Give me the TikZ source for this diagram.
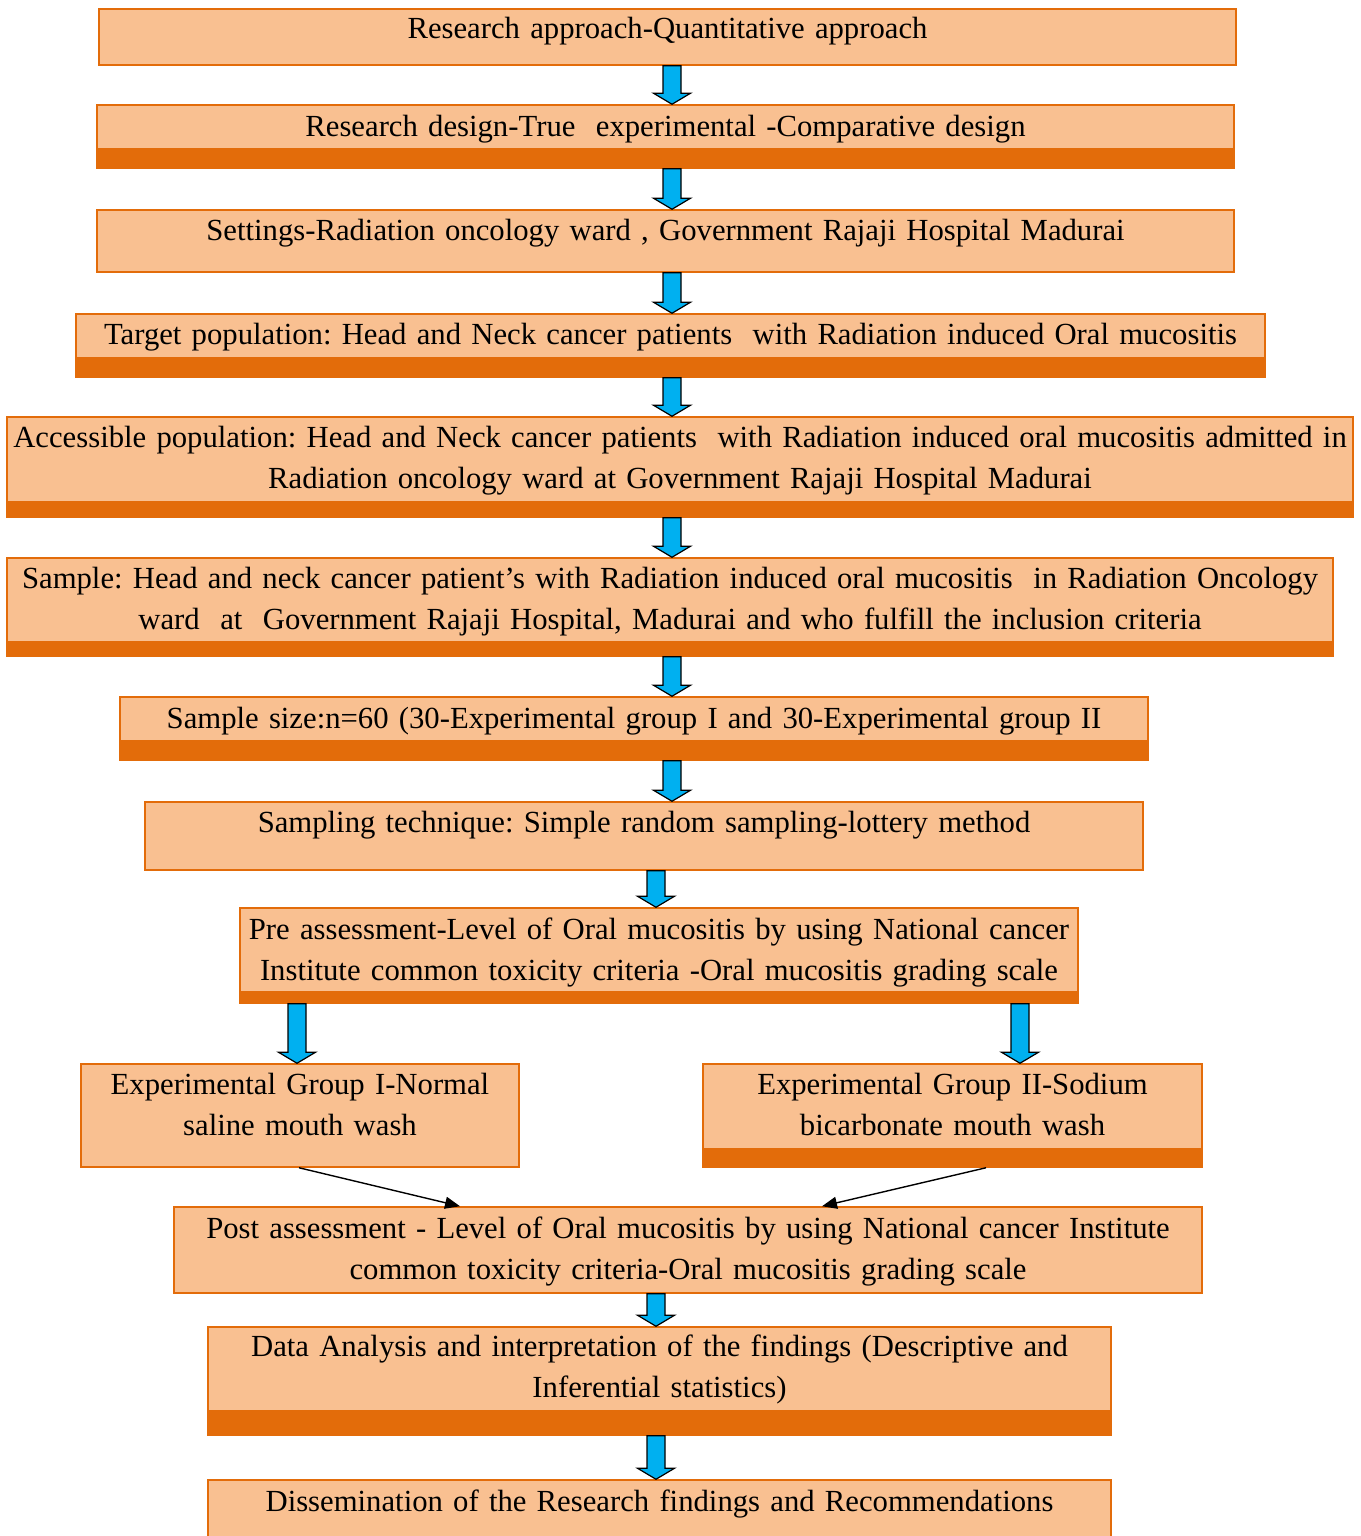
\documentclass[tikz,border=0pt]{standalone}
\usepackage{fontspec}
\setmainfont{Liberation Serif}
\usetikzlibrary{calc,fit,arrows.meta}
\frenchspacing
\definecolor{boxfill}{HTML}{F9C091}
\definecolor{boxline}{HTML}{E36C0A}
\definecolor{arrblue}{HTML}{00B0F0}
\tikzset{
  box/.style={draw=boxline, fill=boxfill, line width=1.5pt, inner sep=0pt, rectangle},
  txt/.style={anchor=base, inner sep=0pt, align=center, text width=1400pt,
    font=\fontsize{30.7}{41}\selectfont\frenchspacing},
  blockarr/.style={fill=arrblue, draw=black, line width=1.2pt, line join=miter},
  thinarr/.style={draw=black, line width=1.4pt, -{Triangle[length=15pt,width=12pt]}}
}
\newcommand\barrow[3]{%
  \draw[blockarr] let \p1=(#1.south -| #3,0), \p2=(#2.north -| #3,0) in
    (\x1-9pt,\y1) -- (\x1+9pt,\y1) -- (\x1+9pt,\y2+11pt) -- (\x1+18.5pt,\y2+11pt)
    -- (\x1,\y2) -- (\x1-18.5pt,\y2+11pt) -- (\x1-9pt,\y2+11pt) -- cycle;}
\newcommand\bandat[2]{\fill[boxline] (#1.south west) rectangle (#1.east |- 0,#2);}
\begin{document}
\begin{tikzpicture}[x=1pt,y=-1pt]
\useasboundingbox (0,0) rectangle (1360,1536);
\clip (0,0) rectangle (1360,1536);
% boxes
\node[box, fit={(99,9)(1236,65)}] (b1) {};
\node[box, fit={(97,105)(1234,168)}] (b2) {}; \bandat{b2}{148}
\node[box, fit={(97,210)(1234,272)}] (b3) {};
\node[box, fit={(76,314)(1265,377)}] (b4) {}; \bandat{b4}{357}
\node[box, fit={(7,417)(1353,517)}] (b5) {}; \bandat{b5}{501}
\node[box, fit={(7,558)(1333,656)}] (b6) {}; \bandat{b6}{641}
\node[box, fit={(120,697)(1148,760)}] (b7) {}; \bandat{b7}{740}
\node[box, fit={(145,802)(1143,870)}] (b8) {};
\node[box, fit={(240,908)(1078,1003)}] (b9) {}; \bandat{b9}{991}
\node[box, fit={(81,1064)(519,1167)}] (b10) {};
\node[box, fit={(703,1064)(1202,1167)}] (b11) {}; \bandat{b11}{1148}
\node[box, fit={(174,1207)(1202,1293)}] (b12) {};
\node[box, fit={(208,1327)(1111,1435)}] (b13) {}; \bandat{b13}{1410}
\node[box, fit={(208,1480)(1111,1560)}] (b14) {};
% texts
\node[txt] (t1) at (b1.center |- 0,39) {Research approach-Quantitative approach};
\node[txt] (t2) at (b2.center |- 0,136) {Research design-True\ \ experimental -Comparative design};
\node[txt] (t3) at (b3.center |- 0,240) {Settings-Radiation oncology ward , Government Rajaji Hospital Madurai};
\node[txt] (t4) at (b4.center |- 0,344) {Target population: Head and Neck cancer patients\ \ with Radiation induced Oral mucositis};
\node[txt] (t5) at (b5.center |- 0,447) {Accessible population: Head and Neck cancer patients\ \ with Radiation induced oral mucositis admitted in\\Radiation oncology ward at Government Rajaji Hospital Madurai};
\node[txt] (t6) at (b6.center |- 0,588) {Sample: Head and neck cancer patient’s with Radiation induced oral mucositis\ \ in Radiation Oncology\\ward\ \ at\ \ Government Rajaji Hospital, Madurai and who fulfill the inclusion criteria};
\node[txt] (t7) at (b7.center |- 0,728) {Sample size:n=60 (30-Experimental group I and 30-Experimental group II};
\node[txt] (t8) at (b8.center |- 0,832) {Sampling technique: Simple random sampling-lottery method};
\node[txt] (t9) at (b9.center |- 0,939) {Pre assessment-Level of Oral mucositis by using National cancer\\Institute common toxicity criteria -Oral mucositis grading scale};
\node[txt] (t10) at (b10.center |- 0,1094) {Experimental Group I-Normal\\saline mouth wash};
\node[txt] (t11) at (b11.center |- 0,1094) {Experimental Group II-Sodium\\bicarbonate mouth wash};
\node[txt] (t12) at (b12.center |- 0,1238) {Post assessment - Level of Oral mucositis by using National cancer Institute\\common toxicity criteria-Oral mucositis grading scale};
\node[txt] (t13) at (b13.center |- 0,1356) {Data Analysis and interpretation of the findings (Descriptive and\\Inferential statistics)};
\node[txt] (t14) at (b14.center |- 0,1511) {Dissemination of the Research findings and Recommendations};
% block arrows
\barrow{b1}{b2}{672}
\barrow{b2}{b3}{672}
\barrow{b3}{b4}{672}
\barrow{b4}{b5}{672}
\barrow{b5}{b6}{672}
\barrow{b6}{b7}{672}
\barrow{b7}{b8}{672}
\barrow{b8}{b9}{656}
\barrow{b9}{b10}{297}
\barrow{b9}{b11}{1020}
\barrow{b12}{b13}{656}
\barrow{b13}{b14}{656}
% thin arrows
\draw[thinarr] (b10.south -| 299,0) -- (b12.north -| 460,0);
\draw[thinarr] (b11.south -| 986,0) -- (b12.north -| 822,0);
\end{tikzpicture}
\end{document}
